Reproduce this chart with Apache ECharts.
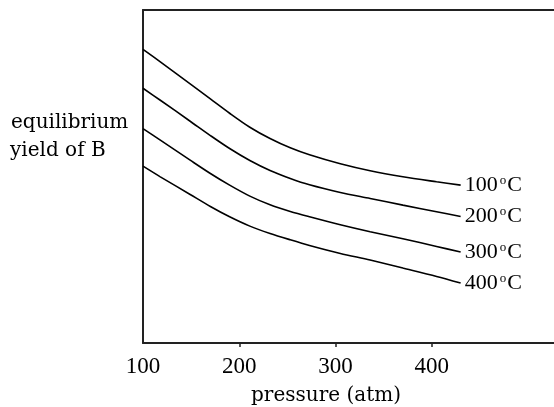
<!DOCTYPE html>
<html>
<head>
<meta charset="utf-8">
<script src="https://cdn.jsdelivr.net/npm/echarts@6/dist/echarts.min.js"></script>
<style>
html,body{margin:0;padding:0;background:#fff;}
#chart{width:554px;height:407px;}
</style>
</head>
<body>
<div id="chart"></div>
<script>
const pressure = [100, 118, 149, 170, 190, 211, 232, 253, 273, 305, 336, 370, 405, 430];
const yield100C = [88.2, 84.4, 77.8, 73.3, 69.0, 64.8, 61.4, 58.6, 56.5, 53.8, 51.7, 49.9, 48.4, 47.4];
const yield200C = [76.5, 72.9, 66.6, 62.3, 58.4, 54.8, 51.8, 49.4, 47.5, 45.2, 43.4, 41.4, 39.4, 38.0];
const yield300C = [64.4, 60.9, 54.9, 50.9, 47.4, 44.1, 41.5, 39.5, 37.9, 35.5, 33.4, 31.3, 29.0, 27.3];
const yield400C = [53.1, 49.9, 44.6, 41.0, 37.9, 35.1, 32.9, 31.0, 29.3, 26.9, 24.9, 22.5, 20.0, 18.0];
const seriesNames = ['100', '200', '300', '400'];
const xTickValues = [200, 300, 400];
const xLabelValues = [100, 200, 300, 400];

const allYields = [yield100C, yield200C, yield300C, yield400C];
const serif = '"DejaVu Serif", serif';
const digitFont = '"Liberation Serif", serif';

const chart = echarts.init(document.getElementById('chart'), null, {renderer: 'canvas'});
chart.setOption({
  animation: false,
  backgroundColor: '#fff',
  grid: {left: 143, right: 0, top: 10, bottom: 64},
  xAxis: [{
    type: 'value',
    min: 100,
    max: 527,
    splitLine: {show: false},
    axisLine: {show: true, onZero: false, lineStyle: {color: '#222', width: 2}},
    axisTick: {show: true, inside: false, length: 4, customValues: xTickValues, lineStyle: {color: '#222', width: 1.5}},
    axisLabel: {show: true, customValues: xLabelValues, margin: 12, color: '#000', fontFamily: digitFont, fontSize: 23}
  }, {
    type: 'value',
    position: 'top',
    min: 100,
    max: 527,
    splitLine: {show: false},
    axisLine: {show: true, onZero: false, lineStyle: {color: '#222', width: 2}},
    axisTick: {show: false},
    axisLabel: {show: false}
  }],
  yAxis: {
    type: 'value',
    min: 0,
    max: 100,
    splitLine: {show: false},
    axisLine: {show: true, onZero: false, lineStyle: {color: '#222', width: 2}},
    axisTick: {show: false},
    axisLabel: {show: false}
  },
  series: allYields.map((ys, k) => ({
    type: 'line',
    name: seriesNames[k] + '°C',
    smooth: 0.3,
    symbol: 'none',
    lineStyle: {color: '#000', width: 1.6},
    data: pressure.map((p, i) => [p, ys[i]]),
    endLabel: {
      show: true,
      distance: 4,
      formatter: '{n|' + seriesNames[k] + '}{o|o}{n|C}',
      rich: {
        n: {fontFamily: digitFont, fontSize: 22, color: '#000', lineHeight: 22},
        o: {fontFamily: digitFont, fontSize: 13, color: '#000', verticalAlign: 'top', lineHeight: 22, padding: [0, 1, 6, 2]}
      }
    }
  })),
  graphic: [
    {type: 'text', x: 11, y: 123, style: {text: 'equilibrium', font: '20px ' + serif, fill: '#000', verticalAlign: 'middle', align: 'left'}},
    {type: 'text', x: 10, y: 151, style: {text: 'yield of B', font: '20px ' + serif, fill: '#000', verticalAlign: 'middle', align: 'left'}},
    {type: 'text', x: 326, y: 396, style: {text: 'pressure (atm)', font: '20px ' + serif, fill: '#000', verticalAlign: 'middle', align: 'center'}}
  ]
});
</script>
</body>
</html>
